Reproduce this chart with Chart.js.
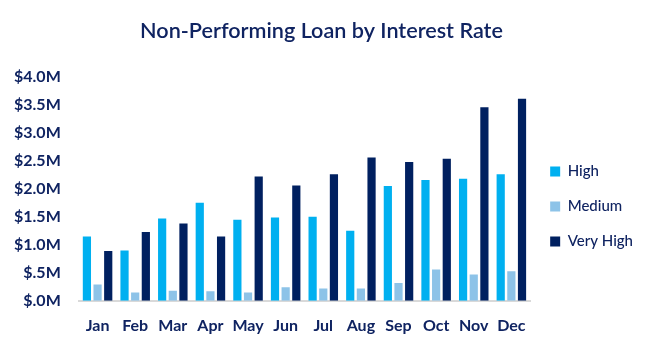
<!DOCTYPE html>
<html>
<head>
<meta charset="utf-8">
<script src="https://cdn.jsdelivr.net/npm/chart.js@4"></script>
<style>
  html, body { margin: 0; padding: 0; background: #ffffff; }
  #wrap { width: 649px; height: 350px; }
</style>
</head>
<body>
<div id="wrap"><canvas id="loanChart" width="649" height="350"></canvas></div>
<script>
// 월별 카테고리와 시리즈 값 (단위: 백만 달러)
const months = ['Jan', 'Feb', 'Mar', 'Apr', 'May', 'Jun', 'Jul', 'Aug', 'Sep', 'Oct', 'Nov', 'Dec'];
const highValues     = [1.15, 0.90, 1.47, 1.75, 1.45, 1.49, 1.50, 1.25, 2.05, 2.16, 2.18, 2.26];
const mediumValues   = [0.29, 0.15, 0.18, 0.17, 0.15, 0.24, 0.22, 0.22, 0.32, 0.56, 0.47, 0.53];
const veryHighValues = [0.89, 1.23, 1.38, 1.15, 2.22, 2.06, 2.26, 2.56, 2.48, 2.54, 3.46, 3.61];
const yTicks = [0, 0.5, 1.0, 1.5, 2.0, 2.5, 3.0, 3.5, 4.0];

const navy = '#0F2361';
const fontFamily = 'Lato, "Open Sans", sans-serif';

const ctx = document.getElementById('loanChart').getContext('2d');

const loanChart = new Chart(ctx, {
    type: 'bar',
    data: {
        labels: months,
        datasets: [
            { label: 'High', data: highValues, backgroundColor: '#00B0F0' },
            { label: 'Medium', data: mediumValues, backgroundColor: '#8DC3E8' },
            { label: 'Very High', data: veryHighValues, backgroundColor: '#002060' }
        ]
    },
    options: {
        responsive: false,
        animation: false,
        categoryPercentage: 0.85,
        barPercentage: 0.77,
        layout: { padding: { top: 0, bottom: 0, left: 0, right: 6 } },
        plugins: {
            title: {
                display: true,
                text: 'Non-Performing Loan by Interest Rate',
                color: navy,
                font: { family: fontFamily, size: 21.6, weight: '600' },
                padding: { top: 18, bottom: 33 }
            },
            legend: {
                position: 'right',
                // 빈 제목으로 범례를 아래로 내림
                title: { display: true, text: '', padding: { top: 44, bottom: 0 }, font: { size: 16 } },
                labels: {
                    color: navy,
                    boxWidth: 10,
                    boxHeight: 10,
                    padding: 20,
                    font: { family: fontFamily, size: 15, weight: '500' }
                }
            },
            tooltip: { enabled: false }
        },
        scales: {
            x: {
                grid: { display: false, drawTicks: false },
                border: { display: true, color: '#D9D9D9', width: 2 },
                ticks: {
                    color: navy,
                    padding: 15,
                    maxRotation: 0,
                    autoSkip: false,
                    font: { family: fontFamily, size: 16, weight: 'bold' }
                }
            },
            y: {
                min: 0,
                max: yTicks[yTicks.length - 1],
                grid: { display: false, drawTicks: false },
                border: { display: false },
                afterBuildTicks: axis => {
                    axis.ticks = yTicks.map(v => ({ value: v }));
                },
                afterFit: axis => {
                    axis.width = axis.width - 4;
                },
                ticks: {
                    color: navy,
                    padding: 18,
                    font: { family: fontFamily, size: 16, weight: 'bold' },
                    callback: value => '$' + (value === 0 ? '.0' : value.toFixed(1).replace(/^0/, '')) + 'M'
                }
            }
        }
    }
});
</script>
</body>
</html>
